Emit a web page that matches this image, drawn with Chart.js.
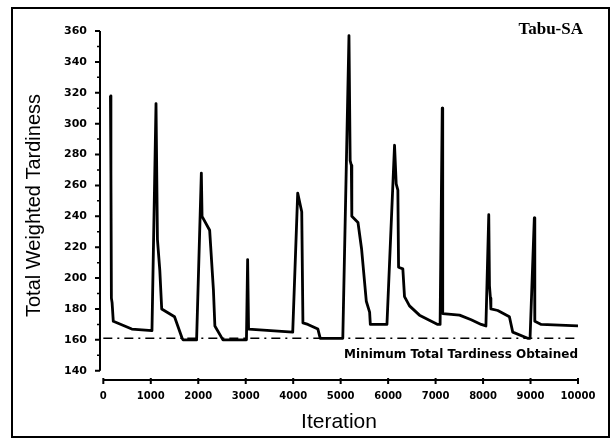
<!DOCTYPE html>
<html>
<head>
<meta charset="utf-8">
<script src="https://cdn.jsdelivr.net/npm/chart.js@4"></script>
<style>
html,body{margin:0;padding:0;background:#fff;}
#wrap{width:615px;height:448px;}
</style>
</head>
<body>
<div id="wrap"><canvas id="chart" width="615" height="448"></canvas></div>
<script>
// ---------- DATI ----------
const iterations = [
  150, 160, 170, 185, 210, 600, 1025,
  1110, 1140, 1190, 1230, 1500, 1660, 1680, 1965,
  2065, 2080, 2240, 2320, 2350, 2520, 3015,
  3040, 3060, 3990,
  4095, 4130, 4180, 4205, 4310, 4520, 4570, 5045,
  5175, 5200, 5225, 5235, 5365, 5440, 5540, 5610, 5625, 5975,
  6135, 6170, 6205, 6220, 6310, 6345, 6450, 6660, 7045, 7095,
  7140, 7150, 7505, 7750, 7960, 8060,
  8120, 8135, 8155, 8165, 8310, 8555, 8625, 8940, 8990,
  9080, 9090, 9225, 10000
];
const tardiness = [
  318, 268, 187, 184, 172, 167, 166,
  313, 225, 205, 180, 175, 161, 160, 160,
  268, 240, 231, 192, 169, 160, 160,
  212, 167, 165,
  255, 250, 243, 171, 170, 167, 161, 161,
  357, 276, 273, 240, 236, 219, 185, 178, 170, 170,
  286, 261, 257, 207, 206, 188, 182, 176, 170, 170,
  310, 177, 176, 173, 170, 169,
  241, 195, 187, 180, 179, 175, 165, 161, 161,
  239, 172, 170, 169
];
const minTardiness = 161;
const xTicks = [0, 1000, 2000, 3000, 4000, 5000, 6000, 7000, 8000, 9000, 10000];
const yTicks = [140, 160, 180, 200, 220, 240, 260, 280, 300, 320, 340, 360];
const yMinorTicks = [150, 170, 190, 210, 230, 250, 270, 290, 310, 330, 350];
const chartTitle = 'Tabu-SA';
const minLabel = 'Minimum Total Tardiness Obtained';

// ---------- ASSI, CORNICE E TESTI ----------
const decorPlugin = {
  id: 'decor',
  afterDraw(chart) {
    const { ctx, chartArea, scales: { x, y } } = chart;
    ctx.save();
    ctx.strokeStyle = '#000';
    ctx.fillStyle = '#000';

    // cornice esterna
    ctx.lineWidth = 2;
    ctx.strokeRect(12, 8, 597, 429);

    // asse y con tacche
    const ax = chartArea.left;
    ctx.beginPath();
    ctx.moveTo(ax, y.getPixelForValue(360));
    ctx.lineTo(ax, y.getPixelForValue(140));
    yTicks.forEach(v => {
      const py = y.getPixelForValue(v);
      ctx.moveTo(ax, py); ctx.lineTo(ax - 5, py);
    });
    ctx.stroke();
    ctx.lineWidth = 1.5;
    ctx.beginPath();
    yMinorTicks.forEach(v => {
      const py = y.getPixelForValue(v);
      ctx.moveTo(ax, py); ctx.lineTo(ax - 3, py);
    });
    ctx.stroke();

    // asse x con tacche
    const ay = chartArea.bottom;
    ctx.lineWidth = 2;
    ctx.beginPath();
    ctx.moveTo(x.getPixelForValue(0), ay);
    ctx.lineTo(x.getPixelForValue(10000), ay);
    xTicks.forEach(v => {
      const px = x.getPixelForValue(v);
      ctx.moveTo(px, ay - 2); ctx.lineTo(px, ay + 4);
    });
    ctx.stroke();

    // etichetta del minimo
    ctx.font = 'bold 12px "DejaVu Sans"';
    ctx.textAlign = 'right';
    ctx.textBaseline = 'middle';
    ctx.fillText(minLabel, x.getPixelForValue(10000), y.getPixelForValue(150));

    // titolo in alto a destra
    ctx.font = 'bold 17px "Liberation Serif"';
    ctx.fillText(chartTitle, 583, 30);
    ctx.restore();
  }
};

const tickFont = { family: 'DejaVu Sans', weight: 'bold', size: 10 };

const data = {
  datasets: [
    {
      label: chartTitle,
      data: iterations.map((it, i) => ({ x: it, y: tardiness[i] })),
      borderColor: '#000',
      borderWidth: 2.8,
      borderJoinStyle: 'round',
      pointRadius: 0,
      tension: 0,
      fill: false,
    },
    {
      label: minLabel,
      data: [{ x: 0, y: minTardiness }, { x: 10000, y: minTardiness }],
      borderColor: '#000',
      borderWidth: 1.6,
      borderDash: [9, 5, 2, 5],
      pointRadius: 0,
      fill: false,
    }
  ]
};

const opts = {
  responsive: false,
  animation: false,
  layout: { padding: { top: 31, right: 37, bottom: 0, left: 0 } },
  plugins: { legend: { display: false }, tooltip: { enabled: false } },
  scales: {
    x: {
      type: 'linear',
      min: -70,
      max: 10000,
      afterBuildTicks: s => { s.ticks = xTicks.map(v => ({ value: v })); },
      afterFit: s => { s.height = 68; },
      grid: { display: false, drawTicks: false },
      border: { display: false },
      ticks: {
        color: '#000', padding: 10, font: tickFont, maxRotation: 0, autoSkip: false,
        callback: v => String(v)
      },
      title: {
        display: true, text: 'Iteration', color: '#000',
        font: { family: 'Liberation Sans', size: 21 },
        padding: { top: 0, bottom: 13 }
      }
    },
    y: {
      type: 'linear',
      min: 134,
      max: 360,
      afterBuildTicks: s => { s.ticks = yTicks.map(v => ({ value: v })); },
      afterFit: s => { s.width = 100; },
      grid: { display: false, drawTicks: false },
      border: { display: false },
      ticks: {
        color: '#000', padding: 13, font: { family: 'DejaVu Sans', weight: 'bold', size: 11 },
        callback: v => String(v)
      },
      title: {
        display: true, text: 'Total Weighted Tardiness', color: '#000',
        font: { family: 'Liberation Sans', size: 20 },
        padding: { top: 22, bottom: 0 }
      }
    }
  }
};

new Chart(document.getElementById('chart'), { type: 'line', data, options: opts, plugins: [decorPlugin] });
</script>
</body>
</html>
